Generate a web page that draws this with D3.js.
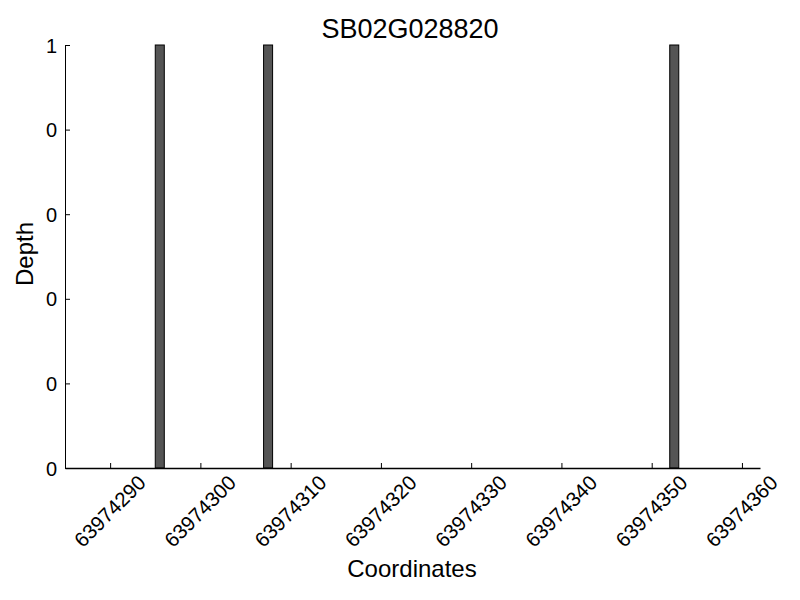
<!DOCTYPE html>
<html>
<head>
  <meta charset="utf-8">
  <title>SB02G028820</title>
  <script src="https://cdnjs.cloudflare.com/ajax/libs/d3/7.8.5/d3.min.js"></script>
<style>
body { margin: 0; background: #fff; font-family: "Liberation Sans", Arial, sans-serif; }
</style>
</head>
<body>
<svg width="800" height="600"></svg>
<script>
// data
var title = "SB02G028820";
var positions = [63974295, 63974307, 63974352];
var depths = [1, 1, 1];
var xTicks = [63974290, 63974300, 63974310, 63974320, 63974330, 63974340, 63974350, 63974360];
var yTicks = [0, 0.2, 0.4, 0.6, 0.8, 1];
var yTickLabels = ["0", "0", "0", "0", "0", "1"];   // integer-truncated as in the original
var xDomain = [63974285, 63974362];

var svg = d3.select("svg");
var plotLeft = 65, plotRight = 760, plotTop = 45, plotBottom = 468;

var x = d3.scaleLinear().domain(xDomain).range([plotLeft, plotRight]);
var y = d3.scaleLinear().domain([0, 1]).range([plotBottom, plotTop]);

// bars (each covers one coordinate)
svg.selectAll("rect.bar")
  .data(positions)
  .enter().append("rect")
    .attr("class", "bar")
    .attr("x", function(d) { return x(d); })
    .attr("width", function(d) { return x(d + 1) - x(d); })
    .attr("y", function(d, i) { return y(depths[i]); })
    .attr("height", function(d, i) { return y(0) - y(depths[i]); })
    .attr("fill", "#555555")
    .attr("stroke", "#000")
    .attr("stroke-width", 1);

// x axis
var xAxis = d3.axisBottom(x)
    .tickValues(xTicks)
    .tickSizeInner(-5)
    .tickSizeOuter(0)
    .tickFormat(d3.format("d"));
var gx = svg.append("g")
    .attr("transform", "translate(0," + plotBottom + ")")
    .call(xAxis);
gx.attr("font-size", null).attr("font-family", null);
gx.select(".domain").attr("stroke-width", 1.5);
gx.selectAll("text")
    .style("font-size", "20.5px")
    .attr("fill", "#000")
    .attr("text-anchor", "middle")
    .attr("dominant-baseline", "central")
    .attr("y", 0).attr("dy", 0)
    .attr("transform", "translate(-1,43) rotate(-45)");

// y axis (left spine only)
var yAxis = d3.axisLeft(y)
    .tickValues(yTicks)
    .tickSizeInner(-5)
    .tickSizeOuter(0)
    .tickFormat(function(d, i) { return yTickLabels[i]; });
var gy = svg.append("g")
    .attr("transform", "translate(" + plotLeft + ",0)")
    .call(yAxis);
gy.attr("font-size", null).attr("font-family", null);
gy.select(".domain").attr("stroke-width", 1);
gy.selectAll("text")
    .style("font-size", "20px")
    .attr("fill", "#000")
    .attr("x", -8)
    .attr("dy", "0.35em");

// title
svg.append("text")
    .attr("x", 410)
    .attr("y", 38)
    .attr("text-anchor", "middle")
    .style("font-size", "27px")
    .text(title);

// axis labels
svg.append("text")
    .attr("x", 412)
    .attr("y", 577)
    .attr("text-anchor", "middle")
    .style("font-size", "24px")
    .text("Coordinates");

svg.append("text")
    .attr("transform", "translate(33,254) rotate(-90)")
    .attr("text-anchor", "middle")
    .style("font-size", "24px")
    .text("Depth");
</script>
</body>
</html>
